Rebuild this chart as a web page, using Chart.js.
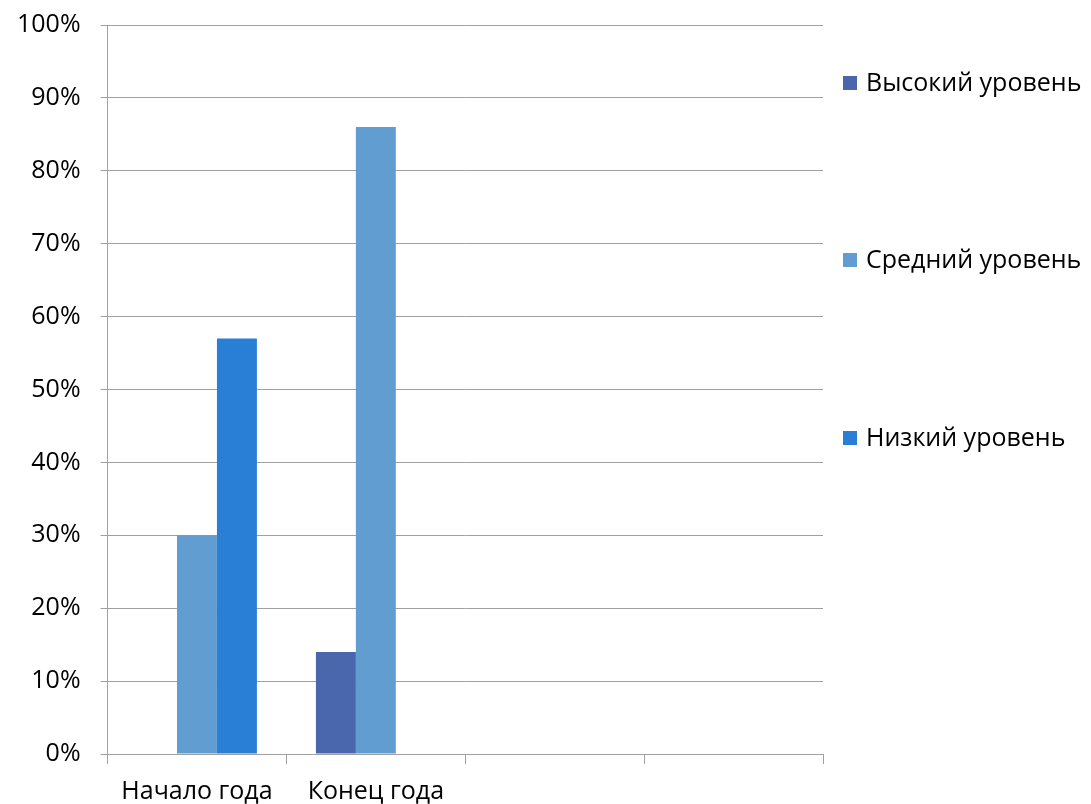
<!DOCTYPE html>
<html>
<head>
<meta charset="utf-8">
<script src="https://cdn.jsdelivr.net/npm/chart.js@4"></script>
<style>
  html, body { margin: 0; padding: 0; background: #fff; }
  #wrap { width: 1091px; height: 804px; position: relative; }
</style>
</head>
<body>
<div id="wrap"><canvas id="chart"></canvas></div>
<script>
const categories = ['Начало года', 'Конец года', '', ''];
const seriesNames = ['Высокий уровень', 'Средний уровень', 'Низкий уровень'];
const high = [0, 14, 0, 0];
const middle = [30, 86, 0, 0];
const low = [57, 0, 0, 0];
const colors = ['#4a66ac', '#629dd1', '#297fd5'];

const FONT = '"Open Sans", sans-serif';
const gridColor = '#a0a0a0';

// legend drawn by hand: three items spread down the right side
const sideLegend = {
  id: 'sideLegend',
  afterDraw(chart) {
    const ctx = chart.ctx;
    const rows = [83, 260, 438];
    ctx.save();
    ctx.font = '25px ' + FONT;
    ctx.textBaseline = 'middle';
    chart.data.datasets.forEach((ds, i) => {
      ctx.fillStyle = ds.backgroundColor;
      ctx.fillRect(843, rows[i] - 7, 14, 14);
      ctx.fillStyle = '#000';
      ctx.fillText(ds.label, 866, rows[i] + 1);
    });
    ctx.restore();
  }
};

new Chart(document.getElementById('chart'), {
  type: 'bar',
  data: {
    labels: categories,
    datasets: [
      { label: seriesNames[0], data: high, backgroundColor: colors[0] },
      { label: seriesNames[1], data: middle, backgroundColor: colors[1] },
      { label: seriesNames[2], data: low, backgroundColor: colors[2] }
    ]
  },
  options: {
    responsive: true,
    maintainAspectRatio: false,
    animation: false,
    layout: { padding: { left: -3, right: 268, top: 0, bottom: 0 } },
    datasets: { bar: { categoryPercentage: 0.67, barPercentage: 1 } },
    plugins: {
      legend: { display: false },
      tooltip: { enabled: false }
    },
    scales: {
      x: {
        grid: { offset: true, drawOnChartArea: false, drawTicks: true, tickLength: 10, color: gridColor },
        border: { color: gridColor },
        ticks: { color: '#000', font: { family: FONT, size: 25 }, padding: 13, maxRotation: 0, autoSkip: false },
        afterFit: scale => { scale.height = 50; }
      },
      y: {
        min: 0,
        max: 100,
        grid: { color: gridColor, tickLength: 7 },
        border: { color: gridColor },
        ticks: {
          stepSize: 10,
          color: '#000',
          font: { family: FONT, size: 25 },
          padding: 20,
          callback: v => v + '%'
        },
        // the top label sits close to the canvas edge
        afterFit: scale => { scale.paddingTop = 25; scale.paddingBottom = 0; }
      }
    }
  },
  plugins: [sideLegend]
});
</script>
</body>
</html>
